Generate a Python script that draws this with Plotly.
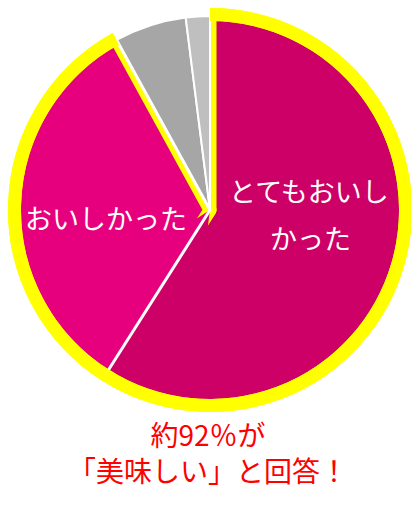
import plotly.graph_objects as go

# ---- data ----
categories = ["とてもおいしかった", "おいしかった", "ふつう", "おいしくなかった"]
values = [59, 33, 6, 2]
slice_colors = ["#CC0066", "#E6007E", "#A6A6A6", "#BFBFBF"]
highlight = [True, True, False, False]          # slices outlined in yellow
label_top_lines = ["とてもおいし", "かった"]
label_second = "おいしかった"
caption_lines = ["約92％が", "「美味しい」と回答！"]

# ---- style ----
YELLOW = "#FFFF00"
WHITE = "#FFFFFF"
NONE = "rgba(0,0,0,0)"
OFF = 8                      # page body margin
W, H = 419 - OFF, 512 - 2 * OFF
CX, CY = 210 - OFF, 210 - OFF
R_PINK, R_GRAY, R_OUT = 189, 194, 202
FONT = "Noto Sans CJK JP"

total = sum(values)
theta12 = 360.0 * values[0] / total


def px(x, y):
    return (x - OFF) / W, 1 - (y - OFF) / H


def dom(r):
    return dict(x=[max(0, (CX - r) / W), min(1, (CX + r) / W)],
                y=[max(0, 1 - (CY + r) / H), min(1, 1 - (CY - r) / H)])


def pie(r, colors, line_colors, line_widths, vals=None, labels=None,
        rotation=0, hole=0):
    vals = values if vals is None else vals
    labels = categories if labels is None else labels
    return go.Pie(values=vals, labels=labels, sort=False, direction="clockwise",
                  rotation=rotation, hole=hole, domain=dom(r),
                  marker=dict(colors=colors,
                              line=dict(color=line_colors, width=line_widths)),
                  textinfo="none", hoverinfo="skip", showlegend=False)


band = R_OUT - R_PINK
fig = go.Figure()
# pink slices with yellow stroke (gives yellow stripes along outer radii)
fig.add_trace(pie(R_PINK + band / 2,
                  [c if h else NONE for c, h in zip(slice_colors, highlight)],
                  [YELLOW] * 4, [band if h else 0 for h in highlight]))
# gray slices with white separators
fig.add_trace(pie(R_GRAY,
                  [NONE if h else c for c, h in zip(slice_colors, highlight)],
                  [WHITE] * 4, [0 if h else 2 for h in highlight]))
# white cover outside gray slices
fig.add_trace(pie(R_OUT, [NONE if h else WHITE for h in highlight],
                  [WHITE] * 4, [0] * 4, hole=R_GRAY / R_OUT))
# repaint pink around the boundary between the two pink slices
fig.add_trace(pie(R_PINK, [slice_colors[0], slice_colors[1], NONE],
                  [WHITE] * 3, [0, 0, 0], vals=[25, 25, 310],
                  labels=["a", "b", "c"], rotation=theta12 - 25))
# white divider between the two pink slices
fig.add_trace(pie(R_PINK + 5, [NONE, NONE], [WHITE, WHITE], [3, 0],
                  vals=[values[1], total - values[1]], labels=["a", "b"],
                  rotation=theta12))
# yellow outer ring around the highlighted slices
fig.add_trace(pie(R_OUT, [YELLOW if h else NONE for h in highlight],
                  [YELLOW] * 4, [0] * 4, hole=R_PINK / R_OUT))

ann = []
for text, (x, y) in [(label_top_lines[0], (309, 190)),
                     (label_top_lines[1], (310, 237)),
                     (label_second, (106, 218))]:
    ax, ay = px(x, y)
    ann.append(dict(text=text, x=ax, y=ay, xref="paper", yref="paper",
                    showarrow=False, xanchor="center", yanchor="middle",
                    font=dict(family=FONT, size=27, color=WHITE)))
cx_, cy_ = px(208, 452)
ann.append(dict(text="<br>".join(caption_lines), x=cx_, y=cy_,
                xref="paper", yref="paper", showarrow=False, xanchor="center",
                yanchor="middle", align="center",
                font=dict(family=FONT, size=28, color="#FF0000")))

fig.update_layout(width=W, height=H, autosize=False,
                  margin=dict(l=0, r=0, t=0, b=0, pad=0),
                  paper_bgcolor=WHITE, plot_bgcolor=WHITE,
                  annotations=ann)
fig.write_html("out.html")
